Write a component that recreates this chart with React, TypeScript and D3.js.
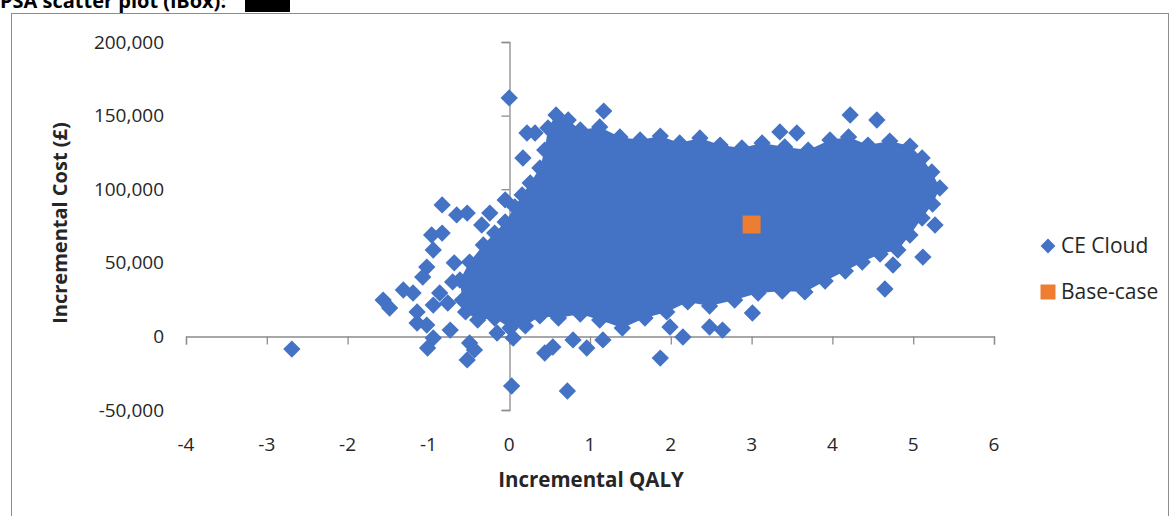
import React, { useEffect, useRef } from 'react'
import * as d3 from 'd3'

// Incremental QALY / incremental cost
// outline of the dense part of the CE cloud (diamond centres along its edge)
const cloudEdgeQaly = [
  -0.58, -0.61, -0.49, -0.32, -0.18, -0.05, 0.07, 0.16, 0.26, 0.38, 0.44, 0.48, 0.58, 0.73, 0.88,
  1.12, 1.37, 1.62, 1.87, 2.11, 2.36, 2.61, 2.88, 3.13, 3.41, 3.70, 3.97, 4.20, 4.44, 4.71,
  4.96, 5.11, 5.23, 5.33, 5.24, 5.11, 4.96, 4.81, 4.59, 4.37, 4.16, 3.91, 3.66, 3.38, 3.08,
  2.79, 2.48, 2.21, 1.95, 1.68, 1.40, 1.12, 0.88, 0.61, 0.38, 0.20, 0.01, -0.18, -0.39, -0.54
]
const cloudEdgeCost = [
  24700, 38300, 50500, 62100, 70200, 77700, 87900, 96100, 104200, 114400, 126600, 141600, 150400, 147000, 140200,
  142300, 135500, 133400, 136100, 131400, 134800, 130000, 128000, 131400, 128700, 126600, 133400, 135500, 130000, 132700,
  129300, 121200, 111700, 100800, 89900, 80400, 68900, 58700, 56000, 50500, 44400, 37600, 30200, 30800, 29500,
  24700, 20600, 23400, 16600, 12500, 5700, 11100, 15200, 12500, 13900, 7100, 5700, 12500, 11100, 16600
]

// simulations lying outside the dense part
const outlierQaly = [
  0.0, 1.17, 0.22, 0.32, 0.17, -0.83, -0.65, -0.52, -0.24, -0.34, -0.05, -0.96, -0.83, -0.94, -1.02,
  -1.07, -1.19, -1.31, -1.56, -1.48, -1.14, -1.02, -0.86, -0.76, -0.94, -0.73, -0.94, -1.01, -0.49, -0.52,
  -0.43, -0.15, 0.05, 0.44, 0.54, 0.79, 0.96, 1.16, 0.03, 0.72, 1.87, -2.69, 1.99, 2.15, 2.48,
  2.64, 3.01, 3.35, 3.56, 4.22, 4.55, 5.27, 5.12, 4.75, 4.65, -1.14, -0.68, -0.70
]
const outlierCost = [
  162000, 153100, 138200, 138200, 121200, 89300, 82500, 83800, 83800, 75700, 92700, 68900, 70200, 58700, 47100,
  40300, 29500, 31500, 24700, 19300, 9100, 7700, 29500, 22700, 21300, 4300, -1100, -7900, -4500, -16000,
  -9200, 2300, -1100, -11300, -7200, -2400, -7900, -2400, -33700, -37100, -14700, -8600, 6400, -400, 6400,
  4300, 15900, 138900, 138200, 150400, 147000, 75700, 53900, 48500, 32200, 16600, 50000, 37000
]

const baseCaseQaly = [3.0]
const baseCaseCost = [76000]

const xTicks = [-4, -3, -2, -1, 0, 1, 2, 3, 4, 5, 6]
const yTicks = [-50000, 0, 50000, 100000, 150000, 200000]

const BLUE = '#4472C4'
const ORANGE = '#ED7D31'
const AXIS = '#8c8c8c'
const FONT = "'Open Sans', 'Liberation Sans', sans-serif"

export default function App() {
  const svgRef = useRef<SVGSVGElement>(null)

  useEffect(() => {
    const svg = d3.select(svgRef.current)
    svg.selectAll('*').remove()

    const x = d3.scaleLinear().domain([-4, 6]).range([186, 994])
    const y = d3.scaleLinear().domain([-50000, 200000]).range([410, 42])

    // chart frame
    svg.append('rect')
      .attr('x', 11.5).attr('y', 13.5)
      .attr('width', 1157).attr('height', 520)
      .attr('fill', 'white').attr('stroke', AXIS)

    // title, cut at the top edge like in the source document
    svg.append('text')
      .attr('x', 0).attr('y', 8)
      .style('font', `bold 20px ${FONT}`)
      .attr('fill', '#000')
      .text('PSA scatter plot (iBox):')
    svg.append('rect')
      .attr('x', 245).attr('y', 0).attr('width', 45).attr('height', 12)
      .attr('fill', '#000')

    // axes crossing at 0
    const yAxis = d3.axisLeft(y).tickValues(yTicks).tickSize(8).tickFormat(() => '')
    svg.append('g')
      .attr('transform', `translate(${Math.round(x(0)) + 0.5},0)`)
      .call(yAxis)
    const xAxis = d3.axisBottom(x).tickValues(xTicks).tickSize(8).tickFormat(() => '')
    svg.append('g')
      .attr('transform', `translate(0,${Math.round(y(0)) + 0.5})`)
      .call(xAxis)
    svg.selectAll('.domain').attr('stroke', AXIS).attr('stroke-width', 1.3)
    svg.selectAll('.tick line').attr('stroke', AXIS).attr('stroke-width', 1.3)

    // tick labels sit at the plot's edges
    const fmt = d3.format(',')
    svg.append('g').selectAll('text')
      .data(yTicks).enter().append('text')
      .attr('x', 164).attr('y', d => y(d))
      .attr('dy', '0.35em')
      .attr('text-anchor', 'end')
      .style('font', `19px ${FONT}`)
      .attr('fill', '#262626')
      .text(d => fmt(d).replace('\u2212', '-'))
    svg.append('g').selectAll('text')
      .data(xTicks).enter().append('text')
      .attr('x', d => x(d)).attr('y', 444)
      .attr('dy', '0.35em')
      .attr('text-anchor', 'middle')
      .style('font', `19px ${FONT}`)
      .attr('fill', '#262626')
      .text(d => String(d))

    svg.append('text')
      .attr('x', 591).attr('y', 480).attr('dy', '0.35em')
      .attr('text-anchor', 'middle')
      .style('font', `bold 20.5px ${FONT}`)
      .attr('fill', '#262626')
      .text('Incremental QALY')
    svg.append('text')
      .attr('transform', 'translate(60,223) rotate(-90)')
      .attr('dy', '0.35em')
      .attr('text-anchor', 'middle')
      .style('font', `bold 20px ${FONT}`)
      .attr('fill', '#262626')
      .text('Incremental Cost (£)')

    // CE cloud: dense part as filled outline, then diamonds
    const edge = cloudEdgeQaly.map((q, i) => [q, cloudEdgeCost[i]])
    const outliers = outlierQaly.map((q, i) => [q, outlierCost[i]])
    const cloud = svg.append('g')
    cloud.append('path')
      .attr('d', d3.line().x(d => x(d[0])).y(d => y(d[1])).curve(d3.curveLinearClosed)(edge as any))
      .attr('fill', BLUE)
    const diamond = d3.symbol().type(d3.symbolSquare).size(150)
    cloud.selectAll('path.pt')
      .data(edge.concat(outliers)).enter().append('path')
      .attr('class', 'pt')
      .attr('d', diamond)
      .attr('transform', d => `translate(${x(d[0])},${y(d[1])}) rotate(45)`)
      .attr('fill', BLUE)

    // base case
    const square = d3.symbol().type(d3.symbolSquare).size(324)
    svg.append('g').selectAll('path')
      .data(baseCaseQaly.map((q, i) => [q, baseCaseCost[i]])).enter().append('path')
      .attr('d', square)
      .attr('transform', d => `translate(${x(d[0])},${y(d[1])})`)
      .attr('fill', ORANGE)

    // legend
    const legend = svg.append('g').attr('transform', 'translate(1048,0)')
    legend.append('path')
      .attr('d', d3.symbol().type(d3.symbolSquare).size(110)())
      .attr('transform', 'translate(0,246) rotate(45)')
      .attr('fill', BLUE)
    legend.append('path')
      .attr('d', d3.symbol().type(d3.symbolSquare).size(225)())
      .attr('transform', 'translate(0,292)')
      .attr('fill', ORANGE)
    legend.selectAll('text')
      .data(['CE Cloud', 'Base-case']).enter().append('text')
      .attr('x', 13).attr('y', (d, i) => 246 + i * 46)
      .attr('dy', '0.35em')
      .style('font', `21px ${FONT}`)
      .attr('fill', '#262626')
      .text(d => d)
  }, [])

  return (
    <svg ref={svgRef} width={1171} height={516}
      style={{ position: 'absolute', left: 0, top: 0, background: 'white' }} />
  )
}
